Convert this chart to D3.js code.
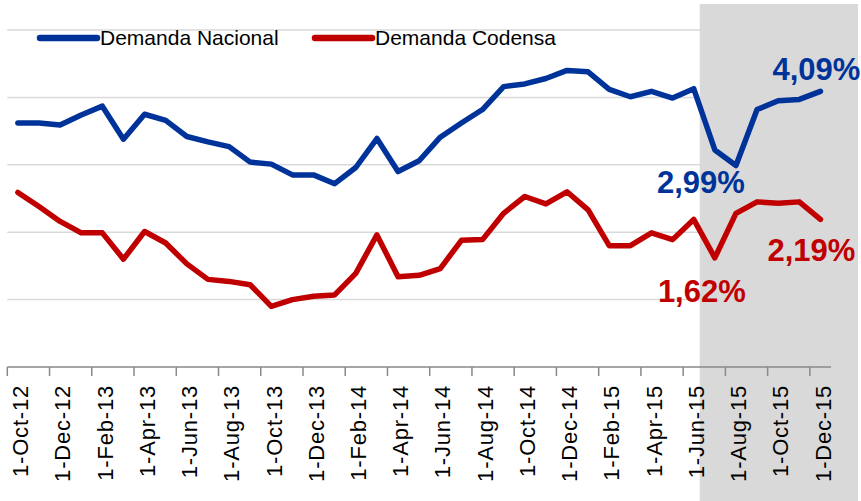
<!DOCTYPE html>
<html>
<head>
<meta charset="utf-8">
<script src="https://cdn.jsdelivr.net/npm/d3@7"></script>
<style>
body { margin: 0; background: #fff; }
svg { display: block; font-family: "Liberation Sans", Arial, sans-serif; }
</style>
</head>
<body>
<script>
// months, Oct-12 .. Dec-15
var months = ["1-Oct-12","1-Nov-12","1-Dec-12","1-Jan-13","1-Feb-13","1-Mar-13","1-Apr-13","1-May-13",
  "1-Jun-13","1-Jul-13","1-Aug-13","1-Sep-13","1-Oct-13","1-Nov-13","1-Dec-13","1-Jan-14","1-Feb-14",
  "1-Mar-14","1-Apr-14","1-May-14","1-Jun-14","1-Jul-14","1-Aug-14","1-Sep-14","1-Oct-14","1-Nov-14",
  "1-Dec-14","1-Jan-15","1-Feb-15","1-Mar-15","1-Apr-15","1-May-15","1-Jun-15","1-Jul-15","1-Aug-15",
  "1-Sep-15","1-Oct-15","1-Nov-15","1-Dec-15"];

var nacional = [3.62,3.62,3.59,3.74,3.87,3.38,3.75,3.66,3.42,3.34,3.27,3.04,3.01,2.85,2.85,2.72,2.96,3.39,
  2.90,3.06,3.41,3.62,3.82,4.16,4.20,4.28,4.40,4.38,4.12,4.01,4.09,3.99,4.13,3.22,2.99,3.82,3.95,3.97,4.09];

var codensa = [2.59,2.38,2.16,1.99,1.99,1.60,2.01,1.84,1.53,1.30,1.27,1.22,0.90,1.00,1.05,1.07,1.39,1.96,
  1.34,1.36,1.46,1.88,1.89,2.28,2.53,2.42,2.60,2.33,1.80,1.80,1.99,1.89,2.19,1.62,2.28,2.45,2.43,2.45,2.19];

var yTicks = [0, 1, 2, 3, 4, 5];

var seriesNames = ["Demanda Nacional", "Demanda Codensa"];
var colors = ["#003399", "#c00000"];

// highlighted values: [series, month index, text]
var callouts = [
  [0, 38, "4,09%"],
  [0, 34, "2,99%"],
  [1, 33, "1,62%"],
  [1, 38, "2,19%"]
];
var shadeFrom = "1-Jun-15";

var width = 861, height = 501;

var svg = d3.select("body").append("svg")
  .attr("width", width)
  .attr("height", height);

var x = d3.scaleBand()
  .domain(months)
  .range([7.3, 831]);

var y = d3.scaleLinear()
  .domain([0, 5])
  .range([367, 30]);

function cx(m) { return x(m) + x.bandwidth() / 2; }

// gridlines
svg.append("g")
  .selectAll("line")
  .data(yTicks.filter(function(d) { return d > 0; }))
  .enter().append("line")
  .attr("x1", x.range()[0])
  .attr("x2", x.range()[1])
  .attr("y1", function(d) { return y(d); })
  .attr("y2", function(d) { return y(d); })
  .attr("stroke", "#d9d9d9")
  .attr("stroke-width", 1.5);

// shaded period
var sx = cx(shadeFrom) + 6;
svg.append("rect")
  .attr("x", sx)
  .attr("y", 4)
  .attr("width", 858 - sx)
  .attr("height", height - 4)
  .attr("fill", "#d9d9d9");

// x axis
var tickMonths = months.filter(function(d, i) { return i % 2 === 0; });

svg.append("line")
  .attr("x1", x.range()[0])
  .attr("x2", x.range()[1])
  .attr("y1", y(0))
  .attr("y2", y(0))
  .attr("stroke", "#898989")
  .attr("stroke-width", 1.5);

svg.append("g")
  .selectAll("line")
  .data(tickMonths)
  .enter().append("line")
  .attr("x1", function(d) { return x(d); })
  .attr("x2", function(d) { return x(d); })
  .attr("y1", y(0))
  .attr("y2", y(0) + 9)
  .attr("stroke", "#898989")
  .attr("stroke-width", 1.5);

svg.append("g")
  .selectAll("text")
  .data(tickMonths)
  .enter().append("text")
  .attr("transform", function(d) { return "translate(" + (cx(d) + 2.5) + "," + (y(0) + 18) + ") rotate(-90)"; })
  .attr("text-anchor", "end")
  .attr("dy", "0.35em")
  .attr("font-size", 22)
  .attr("letter-spacing", 0.8)
  .attr("fill", "#000")
  .text(function(d) { return d; });

// lines
var line = d3.line()
  .x(function(d, i) { return cx(months[i]); })
  .y(function(d) { return y(d); });

[nacional, codensa].forEach(function(s, k) {
  svg.append("path")
    .datum(s)
    .attr("d", line)
    .attr("fill", "none")
    .attr("stroke", colors[k])
    .attr("stroke-width", 5.5)
    .attr("stroke-linejoin", "round")
    .attr("stroke-linecap", "round");
});

// legend
var legendX = [40, 315];
seriesNames.forEach(function(name, k) {
  svg.append("line")
    .attr("x1", legendX[k])
    .attr("x2", legendX[k] + 57)
    .attr("y1", 38)
    .attr("y2", 38)
    .attr("stroke", colors[k])
    .attr("stroke-width", 6.5)
    .attr("stroke-linecap", "round");
  svg.append("text")
    .attr("x", legendX[k] + 60)
    .attr("y", 45)
    .attr("font-size", 21)
    .attr("fill", "#000")
    .text(name);
});

// callouts
var offsets = [[-4, -11], [-35, 28], [-13, 44], [-9, 42]];
callouts.forEach(function(c, k) {
  var s = c[0] === 0 ? nacional : codensa;
  svg.append("text")
    .attr("x", cx(months[c[1]]) + offsets[k][0])
    .attr("y", y(s[c[1]]) + offsets[k][1])
    .attr("text-anchor", "middle")
    .attr("font-size", 31)
    .attr("font-weight", "bold")
    .attr("fill", colors[c[0]])
    .text(c[2]);
});
</script>
</body>
</html>
